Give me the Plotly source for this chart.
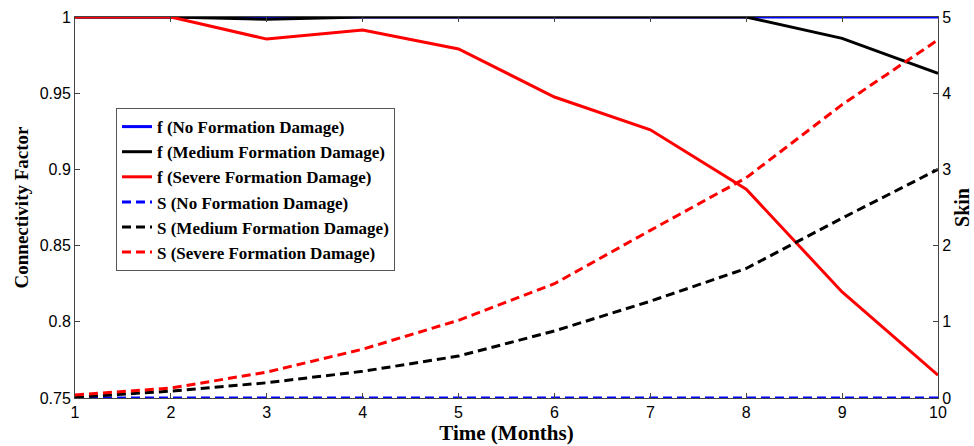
import plotly.graph_objects as go

months = [1, 2, 3, 4, 5, 6, 7, 8, 9, 10]
f_none = [1, 1, 1, 1, 1, 1, 1, 1, 1, 1]
f_medium = [1, 1, 0.9985, 1, 1, 1, 1, 1, 0.986, 0.963]
f_severe = [1, 1, 0.9855, 0.9915, 0.979, 0.9475, 0.926, 0.887, 0.8196, 0.765]
s_none = [0, 0, 0, 0, 0, 0, 0, 0, 0, 0]
s_medium = [0.01, 0.09, 0.2, 0.35, 0.55, 0.88, 1.27, 1.7, 2.36, 3.0]
s_severe = [0.04, 0.13, 0.34, 0.64, 1.02, 1.5, 2.2, 2.89, 3.85, 4.7]

names = ["No Formation Damage", "Medium Formation Damage", "Severe Formation Damage"]
colors = ["#0000ff", "#000000", "#ff0000"]

fig = go.Figure()
for n, c, ys in zip(names, colors, [f_none, f_medium, f_severe]):
    fig.add_trace(go.Scatter(x=months, y=ys, mode="lines", name="f (" + n + ")",
                             line=dict(color=c, width=3), yaxis="y"))
for n, c, ys in zip(names, colors, [s_none, s_medium, s_severe]):
    fig.add_trace(go.Scatter(x=months, y=ys, mode="lines", name="S (" + n + ")",
                             line=dict(color=c, width=3, dash="9px,5px"), yaxis="y2"))

tickfont = dict(family="Liberation Sans, Arial", size=16, color="black")
serif = "Liberation Serif, Times New Roman"

fig.update_layout(
    width=974, height=446,
    margin=dict(l=75, r=36, t=17, b=48),
    plot_bgcolor="white", paper_bgcolor="white",
    showlegend=True,
    legend=dict(x=0.0475, y=0.761, xanchor="left", yanchor="top",
                bgcolor="white", bordercolor="#555555", borderwidth=1,
                font=dict(family=serif, size=17, color="black", weight="bold"),
                tracegroupgap=0),
    xaxis=dict(range=[1, 10], tickvals=months, ticks="inside", ticklen=5, tickcolor="#444",
               showline=True, linecolor="#444", linewidth=1, mirror="ticks", showgrid=False,
               zeroline=False, tickfont=tickfont, automargin=False,
               title=dict(text="Time (Months)", font=dict(family=serif, size=21, color="black", weight="bold"),
                          standoff=2)),
    yaxis=dict(range=[0.75, 1], tickvals=[0.75, 0.8, 0.85, 0.9, 0.95, 1],
               ticktext=["0.75", "0.8", "0.85", "0.9", "0.95", "1"],
               ticks="inside", ticklen=5, tickcolor="#444",
               showline=True, linecolor="#444", linewidth=1, showgrid=False, zeroline=False,
               tickfont=tickfont, automargin=False,
               title=dict(text="Connectivity Factor", font=dict(family=serif, size=19, color="black", weight="bold"),
                          standoff=6)),
    yaxis2=dict(range=[0, 5], tickvals=[0, 1, 2, 3, 4, 5], overlaying="y", side="right",
                ticks="inside", ticklen=5, tickcolor="#444",
                showline=True, linecolor="#444", linewidth=1, showgrid=False, zeroline=False,
                tickfont=tickfont, automargin=False,
                title=dict(text="Skin", font=dict(family=serif, size=20, color="black", weight="bold"),
                           standoff=4)),
)

fig.write_html("out.html")
